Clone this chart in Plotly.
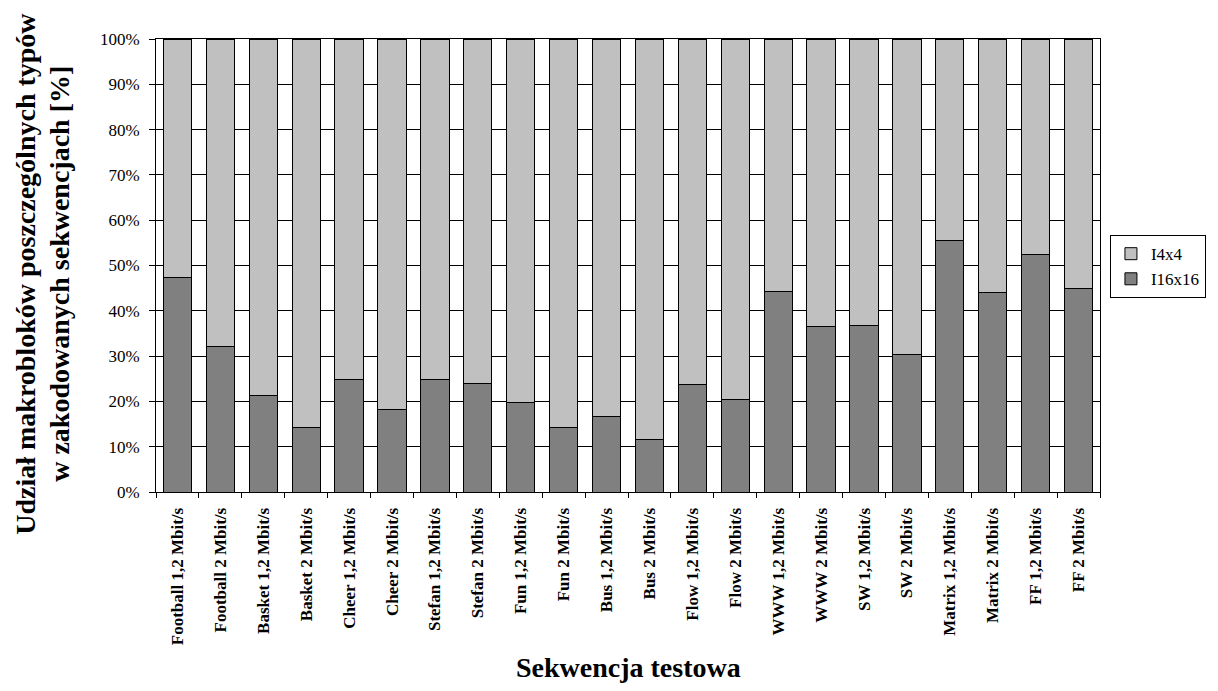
import plotly.graph_objects as go

categories = [
    "Football 1,2 Mbit/s", "Football 2 Mbit/s", "Basket 1,2 Mbit/s", "Basket 2 Mbit/s",
    "Cheer 1,2 Mbit/s", "Cheer 2 Mbit/s", "Stefan 1,2 Mbit/s", "Stefan 2 Mbit/s",
    "Fun 1,2 Mbit/s", "Fun 2 Mbit/s", "Bus 1,2 Mbit/s", "Bus 2 Mbit/s",
    "Flow 1,2 Mbit/s", "Flow 2 Mbit/s", "WWW 1,2 Mbit/s", "WWW 2 Mbit/s",
    "SW 1,2 Mbit/s", "SW 2 Mbit/s", "Matrix 1,2 Mbit/s", "Matrix 2 Mbit/s",
    "FF 1,2 Mbit/s", "FF 2 Mbit/s",
]
i16x16 = [47.4, 32.1, 21.2, 14.3, 24.8, 18.3, 24.9, 24.0, 19.8, 14.3, 16.6,
          11.6, 23.7, 20.4, 44.2, 36.6, 36.8, 30.4, 55.6, 44.0, 52.4, 45.0]
i4x4 = [100 - v for v in i16x16]
y_ticks = list(range(0, 101, 10))
y_ticklabels = [f"{v}%" for v in y_ticks]

FONT = "Liberation Serif"

fig = go.Figure()
fig.add_trace(go.Bar(x=categories, y=i16x16, name="I16x16",
                     marker=dict(color="#808080", line=dict(color="black", width=1))))
fig.add_trace(go.Bar(x=categories, y=i4x4, name="I4x4",
                     marker=dict(color="#C0C0C0", line=dict(color="black", width=1))))

fig.update_layout(
    width=1210, height=683,
    margin=dict(l=148, r=113, t=31, b=199),
    barmode="stack", bargap=0.34,
    plot_bgcolor="white", paper_bgcolor="white",
    font=dict(family=FONT, color="black"),
    showlegend=True,
    legend=dict(x=(1107 - 148) / 949, y=0.567, xanchor="left", yanchor="top",
                traceorder="reversed", bordercolor="black", borderwidth=1,
                font=dict(family=FONT, size=17, color="black"),
                bgcolor="white", itemwidth=30, tracegroupgap=0),
    xaxis=dict(tickangle=-90, tickson="boundaries", ticks="outside", ticklen=5,
               tickcolor="black", showline=True, linecolor="black", linewidth=1,
               mirror=True, showgrid=False, ticklabelstandoff=8,
               tickfont=dict(family=FONT, size=17, color="black", weight="bold")),
    yaxis=dict(range=[0, 100], tickmode="array", tickvals=y_ticks, ticktext=y_ticklabels,
               ticks="outside", ticklen=6, tickcolor="black", showline=True,
               linecolor="black", linewidth=1, mirror=True, ticklabelstandoff=6,
               showgrid=True, gridcolor="black", gridwidth=1,
               tickfont=dict(family=FONT, size=17, color="black")),
    annotations=[
        dict(text="Udział makrobloków poszczególnych typów", textangle=-90,
             xref="paper", yref="paper", x=-0.1390, y=0.4812, showarrow=False,
             xanchor="center", yanchor="middle",
             font=dict(family=FONT, size=28, color="black", weight="bold")),
        dict(text="w zakodowanych sekwencjach [%]", textangle=-90,
             xref="paper", yref="paper", x=-0.1030, y=0.4812, showarrow=False,
             xanchor="center", yanchor="middle",
             font=dict(family=FONT, size=28, color="black", weight="bold")),
        dict(text="Sekwencja testowa", xref="paper", yref="paper",
             x=0.5005, y=-0.3885, showarrow=False, xanchor="center", yanchor="middle",
             font=dict(family=FONT, size=28, color="black", weight="bold")),
    ],
)

fig.write_html("out.html")
